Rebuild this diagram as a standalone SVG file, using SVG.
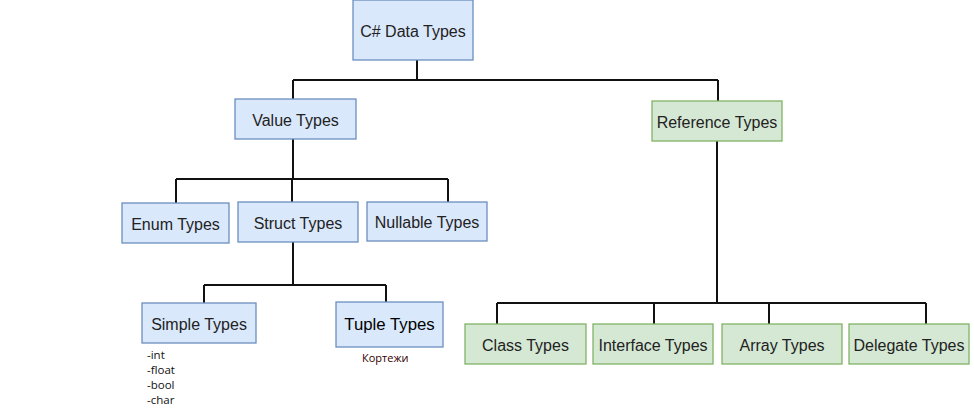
<svg xmlns="http://www.w3.org/2000/svg" width="974" height="411" viewBox="0 0 974 411">
<style>
.b{fill:#dae8fc;stroke:#6c8ebf;stroke-width:1.3}
.g{fill:#d5e8d4;stroke:#82b366;stroke-width:1.3}
.t{font-family:"Liberation Sans",Arial,sans-serif;font-size:16px;fill:#222;text-anchor:middle;dominant-baseline:central}
.s{font-family:"Open Sans","DejaVu Sans",sans-serif;font-size:11.5px;fill:#111}
.c{fill:none;stroke:#111;stroke-width:2}
</style>
<rect width="974" height="411" fill="#fff"/>
<g id="connectors">
<path class="c" d="M417 60V80M293 80H718M293 80V99M718 80V101"/>
<path class="c" d="M293 139V179M176 179H448M176 179V203M292 179V202M448 179V202"/>
<path class="c" d="M293 242V285M204 285H386M204 285V303M386 285V302"/>
<path class="c" d="M717 141V303M497 303H926M497 303V324M654 303V324M769 303V324M926 303V324"/>
</g>
<g id="n-root"><rect class="b" x="353" y="0" width="120" height="60"/><text class="t" x="413" y="31">C# Data Types</text></g>
<g id="n-value"><rect class="b" x="235" y="99" width="121" height="40"/><text class="t" x="295.5" y="120">Value Types</text></g>
<g id="n-ref"><rect class="g" x="652" y="101" width="130" height="40"/><text class="t" x="717" y="122">Reference Types</text></g>
<g id="n-enum"><rect class="b" x="122" y="203" width="107" height="40"/><text class="t" x="175.5" y="224">Enum Types</text></g>
<g id="n-struct"><rect class="b" x="238" y="202" width="120" height="40"/><text class="t" x="298" y="223">Struct Types</text></g>
<g id="n-nullable"><rect class="b" x="367" y="202" width="120" height="39"/><text class="t" x="427" y="222">Nullable Types</text></g>
<g id="n-simple"><rect class="b" x="142" y="303" width="114" height="40"/><text class="t" x="199" y="324">Simple Types</text></g>
<g id="n-tuple"><rect class="b" x="336" y="302" width="107" height="45"/><text class="t" x="389.5" y="324" style="fill:#000;font-size:16.8px">Tuple Types</text></g>
<g id="n-simple-list"><text class="s" x="147" y="359">-int</text><text class="s" x="147" y="374">-float</text><text class="s" x="147" y="389">-bool</text><text class="s" x="147" y="404">-char</text></g>
<g id="n-tuple-note"><text class="s" x="362" y="362" style="font-size:11px;fill:#300">Кортежи</text></g>
<g id="n-class"><rect class="g" x="465" y="324" width="121" height="40"/><text class="t" x="525.5" y="345">Class Types</text></g>
<g id="n-interface"><rect class="g" x="593" y="324" width="120" height="40"/><text class="t" x="653" y="345">Interface Types</text></g>
<g id="n-array"><rect class="g" x="722" y="324" width="120" height="40"/><text class="t" x="782" y="345">Array Types</text></g>
<g id="n-delegate"><rect class="g" x="849" y="324" width="120" height="40"/><text class="t" x="909" y="345">Delegate Types</text></g>
</svg>
